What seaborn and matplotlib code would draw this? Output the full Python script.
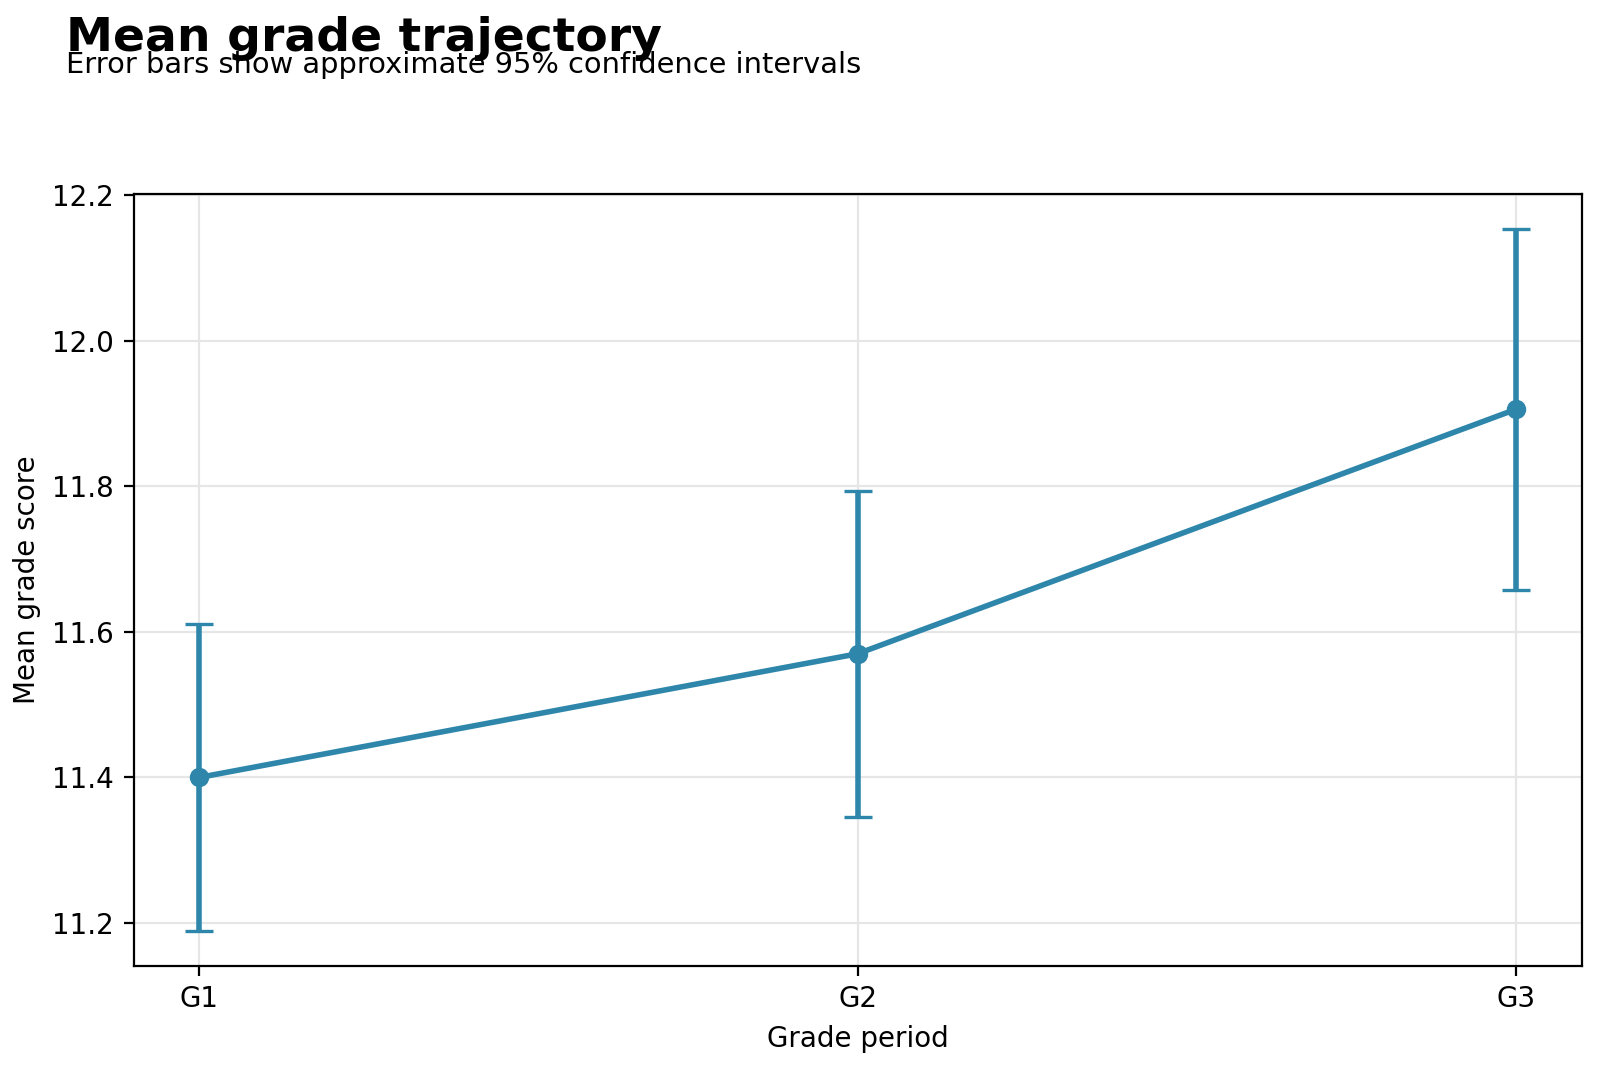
import pandas as pd
import seaborn as sns
import matplotlib.pyplot as plt

periods = ['G1', 'G2', 'G3']
mean_scores = [11.400, 11.570, 11.906]
ci_halfwidth = [0.211, 0.224, 0.248]

line_color = '#2e86ab'

df = pd.DataFrame({'period': periods, 'mean': mean_scores, 'err': ci_halfwidth})

fig, ax = plt.subplots(figsize=(8, 5.34), dpi=200)
fig.subplots_adjust(left=0.0835, right=0.9885, top=0.8185, bottom=0.0955)

# line + markers
sns.lineplot(data=df, x='period', y='mean', color=line_color, linewidth=2.0,
             marker='o', markersize=7, markeredgewidth=0, ax=ax, zorder=3)
# confidence interval bars
ax.errorbar(df['period'], df['mean'], yerr=df['err'], fmt='none',
            ecolor=line_color, elinewidth=2, capsize=5, capthick=1.2, zorder=2)

ax.grid(True, color='#e6e6e6', linewidth=0.8)
ax.set_axisbelow(True)
ax.set_xlabel('Grade period', fontsize=10)
ax.set_ylabel('Mean grade score', fontsize=10)
ax.tick_params(labelsize=10)

fig.text(0.041, 0.985, 'Mean grade trajectory', fontsize=17, fontweight='bold', va='top')
fig.text(0.041, 0.952, 'Error bars show approximate 95% confidence intervals', fontsize=10.4, va='top')

plt.savefig('out.png', dpi=200)
plt.close()
